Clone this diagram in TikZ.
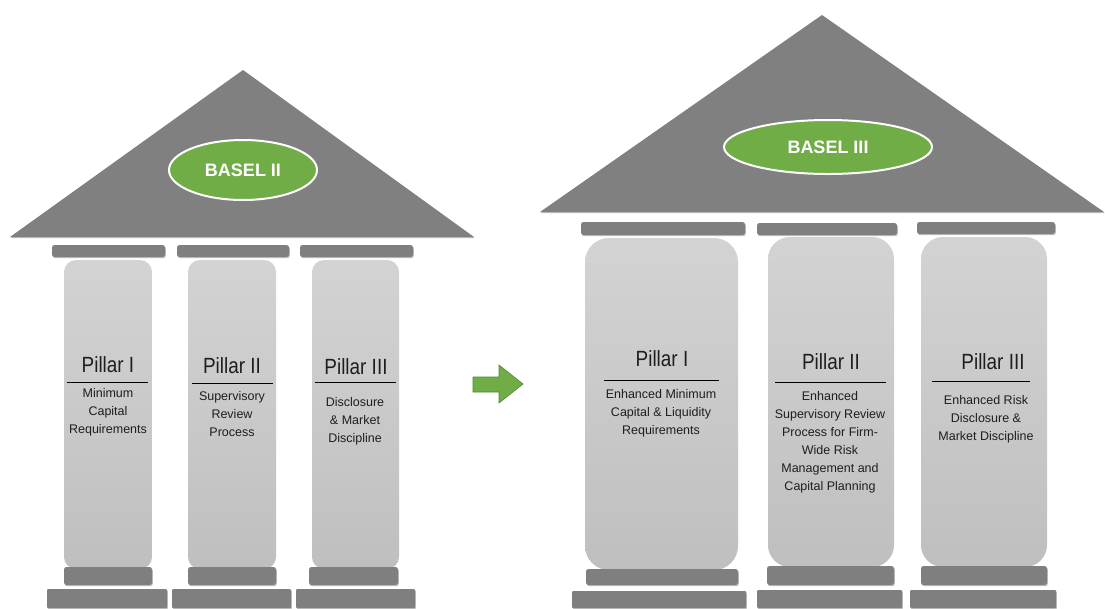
\documentclass[tikz,border=0pt]{standalone}
\usepackage{fontspec}
\setmainfont{Liberation Sans}
\newfontfamily\narrowfont[FakeStretch=0.86]{Liberation Sans}
\usetikzlibrary{shapes.geometric,shadows}
\definecolor{roofgray}{HTML}{808080}
\definecolor{slabgray}{HTML}{7F7F7F}
\definecolor{pilltop}{HTML}{D3D3D3}
\definecolor{pillbot}{HTML}{BFBFBF}
\definecolor{basgreen}{HTML}{70AD47}
\definecolor{arrgreen}{HTML}{4E8A30}
\definecolor{txt}{HTML}{1E1E1E}
\tikzset{
  soft/.style={drop shadow={shadow xshift=0.8pt,shadow yshift=-1.2pt,opacity=0.25,fill=black}},
  slabbox/.style={fill=slabgray,draw=none,rounded corners=2.5pt,inner sep=0pt,outer sep=0pt,soft},
  pillarbox/.style={top color=pilltop,bottom color=pillbot,draw=none,inner sep=0pt,outer sep=0pt},
  ptitle/.style={font=\narrowfont\fontsize{22}{26}\selectfont,text=txt,inner sep=0pt,anchor=north},
  pdesc/.style={font=\fontsize{12.5}{18}\selectfont,text=txt,inner sep=0pt,anchor=north,align=center},
  badge/.style={ellipse,fill=basgreen,draw=white,line width=2pt,text=white,font=\bfseries\fontsize{18}{20}\selectfont,inner sep=0pt},
  rule/.style={draw=black,line width=0.9pt}
}
\newcommand\slab[6]{\node[#6,minimum width={(#4-#2)*1pt},minimum height={(#5-#3)*1pt}] (#1) at ({(#2+#4)/2},{(#3+#5)/2}) {};}
\begin{document}
\begin{tikzpicture}[x=1pt,y=-1pt]
\useasboundingbox[fill=white] (0,0) rectangle (1105,608);
% ---------------- left temple (Basel II)
\coordinate (lrA) at (243,70);
\coordinate (lrL) at (10,237);
\coordinate (lrR) at (474,237);
\fill[roofgray,soft] (lrL) -- (lrA) -- (lrR) -- cycle;
\node[badge,minimum width=148pt,minimum height=60pt] (b2) at (243,170) {BASEL II};
% caps
\slab{lc1}{52}{245}{165}{257}{slabbox}
\slab{lc2}{177}{245}{289}{257}{slabbox}
\slab{lc3}{300}{245}{413}{257}{slabbox}
% pillars
\slab{lp1}{64}{260}{152}{569}{pillarbox,rounded corners=12pt}
\slab{lp2}{188}{260}{276}{569}{pillarbox,rounded corners=12pt}
\slab{lp3}{312}{260}{399}{569}{pillarbox,rounded corners=12pt}
% plinths
\slab{lq1}{64}{567}{152}{585}{slabbox}
\slab{lq2}{188}{567}{276}{585}{slabbox}
\slab{lq3}{309}{567}{398}{585}{slabbox}
% base
\slab{lb1}{47}{589}{167}{608}{slabbox,rounded corners=1pt}
\slab{lb2}{172}{589}{291}{608}{slabbox,rounded corners=1pt}
\slab{lb3}{296}{589}{415}{608}{slabbox,rounded corners=1pt}
% texts
\node[ptitle] (lt1) at (108,356) {Pillar I};
\node[ptitle] (lt2) at (232,357) {Pillar II};
\node[ptitle] (lt3) at (356,358) {Pillar III};
\draw[rule] (67,382) -- (148,382);
\draw[rule] (192,383) -- (273,383);
\draw[rule] (315,382) -- (396,382);
\node[pdesc] (ld1) at (108,388) {Minimum\\Capital\\Requirements};
\node[pdesc] (ld2) at (232,391) {Supervisory\\Review\\Process};
\node[pdesc] (ld3) at (355,397) {Disclosure\\\& Market\\Discipline};
% ---------------- arrow
\fill[basgreen,draw=arrgreen,line width=0.6pt] (473,377) -- (499,377) -- (499,365) -- (523,384) -- (499,403) -- (499,392) -- (473,392) -- cycle;
% ---------------- right temple (Basel III)
\coordinate (rrA) at (822,15);
\coordinate (rrL) at (540,212);
\coordinate (rrR) at (1104,212);
\fill[roofgray,soft] (rrL) -- (rrA) -- (rrR) -- cycle;
\node[badge,minimum width=208pt,minimum height=54pt] (b3) at (828,147) {BASEL III};
\slab{rc1}{581}{222}{745}{235}{slabbox}
\slab{rc2}{757}{223}{897}{235}{slabbox}
\slab{rc3}{917}{222}{1055}{234}{slabbox}
\slab{rp1}{585}{238}{738}{570}{pillarbox,rounded corners=24pt}
\slab{rp2}{768}{237}{894}{567}{pillarbox,rounded corners=22pt}
\slab{rp3}{921}{237}{1047}{567}{pillarbox,rounded corners=22pt}
\slab{rq1}{586}{569}{738}{585}{slabbox}
\slab{rq2}{767}{566}{894}{585}{slabbox}
\slab{rq3}{921}{566}{1047}{585}{slabbox}
\slab{rb1}{572}{591}{746}{608}{slabbox,rounded corners=1pt}
\slab{rb2}{757}{590}{902}{608}{slabbox,rounded corners=1pt}
\slab{rb3}{910}{590}{1056}{608}{slabbox,rounded corners=1pt}
\node[ptitle] (rt1) at (662,350) {Pillar I};
\node[ptitle] (rt2) at (831,353) {Pillar II};
\node[ptitle] (rt3) at (993,353) {Pillar III};
\draw[rule] (604,380) -- (719,380);
\draw[rule] (775,382) -- (886,382);
\draw[rule] (932,381) -- (1030,381);
\node[pdesc] (rd1) at (661,389) {Enhanced Minimum\\Capital \& Liquidity\\Requirements};
\node[pdesc] (rd2) at (830,391) {Enhanced\\Supervisory Review\\Process for Firm-\\Wide Risk\\Management and\\Capital Planning};
\node[pdesc] (rd3) at (986,395) {Enhanced Risk\\Disclosure \&\\Market Discipline};
\end{tikzpicture}
\end{document}
